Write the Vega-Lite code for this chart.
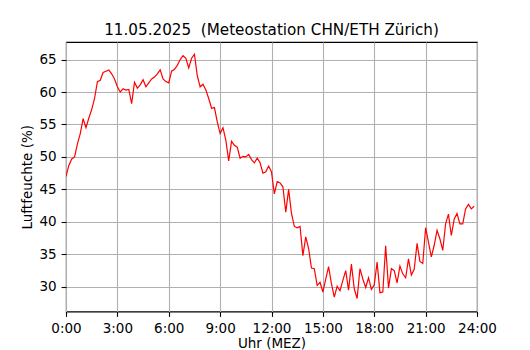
{
 "$schema": "https://vega.github.io/schema/vega-lite/v6.json",
 "width": 411, "height": 269.5,
 "autosize": {"type": "none"},
 "padding": {"left": 66, "top": 42, "right": 53, "bottom": 38.5},
 "background": "white",
 "config": {
  "font": "DejaVu Sans",
  "view": {"stroke": "black", "strokeWidth": 1.1},
  "axis": {
   "domain": false, "tickColor": "black", "tickSize": 4.9, "tickWidth": 1.1,
   "labelFontSize": 13.5, "labelColor": "black", "labelFont": "DejaVu Sans", "labelPadding": 4.9,
   "labelFlush": false, "labelOverlap": false,
   "gridColor": "#b0b0b0", "gridWidth": 1.1, "gridOpacity": 1,
   "titleFont": "DejaVu Sans", "titleFontWeight": "normal", "titleFontSize": 13.5, "titleColor": "black", "titlePadding": 5
  }
 },
 "title": {"text": "11.05.2025\u00a0 (Meteostation CHN/ETH Zürich)", "font": "DejaVu Sans", "fontSize": 15.2, "fontWeight": "normal", "color": "black", "offset": 4, "anchor": "middle"},
 "data": {"values": [
  {"min":0,"rh":47.0},{"min":10,"rh":48.7},{"min":20,"rh":49.7},{"min":30,"rh":50.0},{"min":40,"rh":52.0},{"min":50,"rh":53.6},
  {"min":60,"rh":55.9},{"min":70,"rh":54.5},{"min":80,"rh":56.0},{"min":90,"rh":57.3},{"min":100,"rh":59.0},{"min":110,"rh":61.6},
  {"min":120,"rh":61.8},{"min":130,"rh":63.0},{"min":140,"rh":63.2},{"min":150,"rh":63.4},{"min":160,"rh":62.8},{"min":170,"rh":62.0},
  {"min":180,"rh":60.8},{"min":190,"rh":60.0},{"min":200,"rh":60.5},{"min":210,"rh":60.3},{"min":220,"rh":60.4},{"min":230,"rh":58.2},
  {"min":240,"rh":61.5},{"min":250,"rh":60.6},{"min":260,"rh":61.1},{"min":270,"rh":61.9},{"min":280,"rh":60.8},{"min":290,"rh":61.4},
  {"min":300,"rh":62.0},{"min":310,"rh":62.3},{"min":320,"rh":62.8},{"min":330,"rh":63.4},{"min":340,"rh":62.0},{"min":350,"rh":61.6},
  {"min":360,"rh":61.4},{"min":370,"rh":63.2},{"min":380,"rh":63.5},{"min":390,"rh":64.1},{"min":400,"rh":65.0},{"min":410,"rh":65.6},
  {"min":420,"rh":65.2},{"min":430,"rh":63.7},{"min":440,"rh":65.2},{"min":450,"rh":65.8},{"min":460,"rh":62.5},{"min":470,"rh":60.8},
  {"min":480,"rh":61.2},{"min":490,"rh":60.3},{"min":500,"rh":59.0},{"min":510,"rh":57.5},{"min":520,"rh":57.6},{"min":530,"rh":55.4},
  {"min":540,"rh":53.6},{"min":550,"rh":54.5},{"min":560,"rh":52.6},{"min":570,"rh":49.4},{"min":580,"rh":52.4},{"min":590,"rh":51.8},
  {"min":600,"rh":51.5},{"min":610,"rh":49.8},{"min":620,"rh":50.1},{"min":630,"rh":50.0},{"min":640,"rh":50.4},{"min":650,"rh":49.6},
  {"min":660,"rh":49.1},{"min":670,"rh":49.8},{"min":680,"rh":49.1},{"min":690,"rh":47.5},{"min":700,"rh":47.7},{"min":710,"rh":48.6},
  {"min":720,"rh":47.7},{"min":730,"rh":44.3},{"min":740,"rh":46.2},{"min":750,"rh":46.0},{"min":760,"rh":45.4},{"min":770,"rh":41.5},
  {"min":780,"rh":45.0},{"min":790,"rh":41.3},{"min":800,"rh":39.3},{"min":810,"rh":39.1},{"min":820,"rh":39.3},{"min":830,"rh":34.8},
  {"min":840,"rh":37.7},{"min":850,"rh":35.9},{"min":860,"rh":32.9},{"min":870,"rh":32.8},{"min":880,"rh":30.2},{"min":890,"rh":30.7},
  {"min":900,"rh":29.2},{"min":910,"rh":31.2},{"min":920,"rh":33.1},{"min":930,"rh":30.5},{"min":940,"rh":28.4},{"min":950,"rh":30.1},
  {"min":960,"rh":29.4},{"min":970,"rh":31.0},{"min":980,"rh":32.5},{"min":990,"rh":29.5},{"min":1000,"rh":33.5},{"min":1010,"rh":29.7},
  {"min":1020,"rh":28.2},{"min":1030,"rh":32.8},{"min":1040,"rh":31.2},{"min":1050,"rh":29.9},{"min":1060,"rh":31.4},{"min":1070,"rh":29.6},
  {"min":1080,"rh":30.3},{"min":1090,"rh":33.8},{"min":1100,"rh":29.1},{"min":1110,"rh":29.2},{"min":1120,"rh":36.3},{"min":1130,"rh":29.8},
  {"min":1140,"rh":32.8},{"min":1150,"rh":32.5},{"min":1160,"rh":30.6},{"min":1170,"rh":33.2},{"min":1180,"rh":32.0},{"min":1190,"rh":31.4},
  {"min":1200,"rh":34.3},{"min":1210,"rh":31.8},{"min":1220,"rh":32.7},{"min":1230,"rh":36.7},{"min":1240,"rh":33.9},{"min":1250,"rh":33.6},
  {"min":1260,"rh":39.1},{"min":1270,"rh":36.9},{"min":1280,"rh":34.6},{"min":1290,"rh":36.4},{"min":1300,"rh":38.7},{"min":1310,"rh":37.4},
  {"min":1320,"rh":35.6},{"min":1330,"rh":39.7},{"min":1340,"rh":41.2},{"min":1350,"rh":37.9},{"min":1360,"rh":40.4},{"min":1370,"rh":41.3},
  {"min":1380,"rh":39.7},{"min":1390,"rh":39.7},{"min":1400,"rh":42.0},{"min":1410,"rh":42.7},{"min":1420,"rh":42.0},{"min":1430,"rh":42.4}
 ]},
 "mark": {"type": "line", "color": "#ff0000", "strokeWidth": 1.2, "clip": true},
 "encoding": {
  "x": {"field": "min", "type": "quantitative",
        "scale": {"domain": [0, 1440], "nice": false, "zero": false},
        "axis": {"values": [0, 180, 360, 540, 720, 900, 1080, 1260, 1440], "labelExpr": "floor(datum.value/60) + ':00'", "title": "Uhr (MEZ)", "titlePadding": 2, "labelPadding": 4.9}},
  "y": {"field": "rh", "type": "quantitative",
        "scale": {"domain": [26.2, 67.7], "nice": false, "zero": false},
        "axis": {"values": [30, 35, 40, 45, 50, 55, 60, 65], "title": "Luftfeuchte (%)"}}
 }
}
